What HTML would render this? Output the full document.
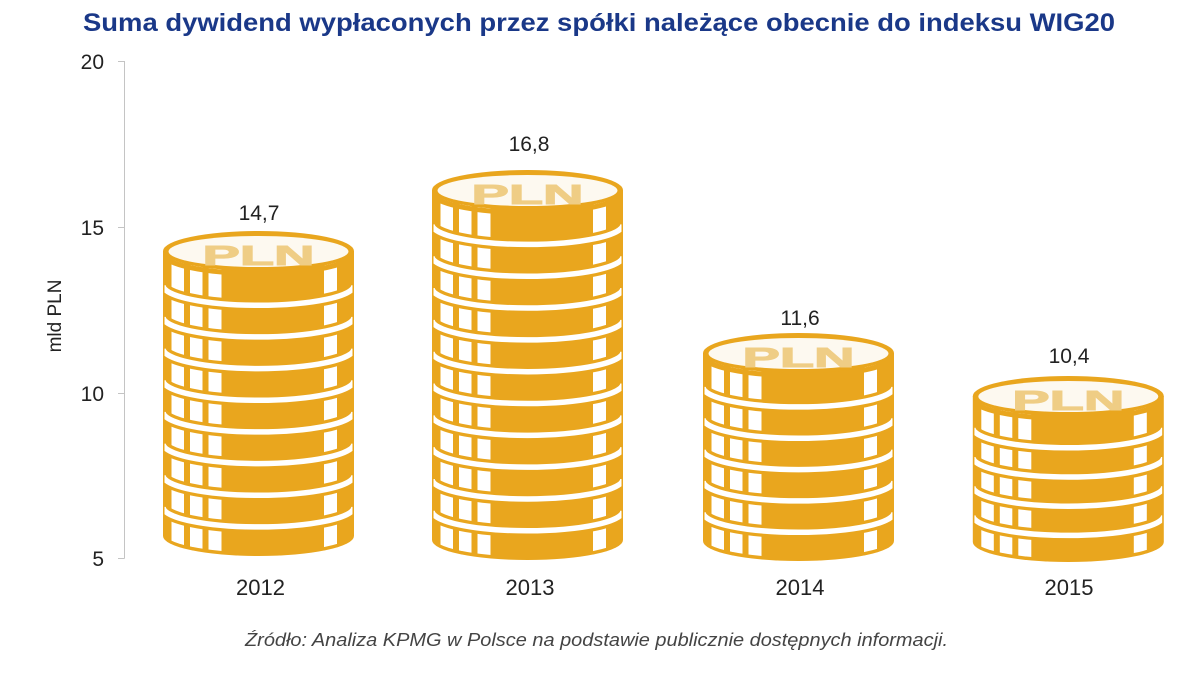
<!DOCTYPE html>
<html>
<head>
<meta charset="utf-8">
<style>
html,body{margin:0;padding:0;background:#ffffff;}
svg{display:block;}
text{font-family:"Liberation Sans",Arial,sans-serif;}
</style>
</head>
<body>
<svg width="1200" height="675" viewBox="0 0 1200 675" xmlns="http://www.w3.org/2000/svg">
<defs>
  <clipPath id="nA" clipPathUnits="userSpaceOnUse"><path d="M-95.5,0 L-95.5,281.5 A95.5,20 0 0 0 95.5,281.5 L95.5,0 Z"/></clipPath>
  <clipPath id="sA" clipPathUnits="userSpaceOnUse"><path d="M-94,-10 L-94,285 A94,19.5 0 0 0 94,285 L94,-10 Z"/></clipPath>
  <clipPath id="nB" clipPathUnits="userSpaceOnUse"><path d="M-95.5,0 L-95.5,346.5 A95.5,20 0 0 0 95.5,346.5 L95.5,0 Z"/></clipPath>
  <clipPath id="sB" clipPathUnits="userSpaceOnUse"><path d="M-94,-10 L-94,350 A94,19.5 0 0 0 94,350 L94,-10 Z"/></clipPath>
  <clipPath id="nC" clipPathUnits="userSpaceOnUse"><path d="M-95.5,0 L-95.5,184.5 A95.5,20 0 0 0 95.5,184.5 L95.5,0 Z"/></clipPath>
  <clipPath id="sC" clipPathUnits="userSpaceOnUse"><path d="M-94,-10 L-94,188 A94,19.5 0 0 0 94,188 L94,-10 Z"/></clipPath>
  <clipPath id="nD" clipPathUnits="userSpaceOnUse"><path d="M-95.5,0 L-95.5,142.5 A95.5,20 0 0 0 95.5,142.5 L95.5,0 Z"/></clipPath>
  <clipPath id="sD" clipPathUnits="userSpaceOnUse"><path d="M-94,-10 L-94,146 A94,19.5 0 0 0 94,146 L94,-10 Z"/></clipPath>
</defs>

<!-- Title -->
<text x="83" y="31" font-size="25" font-weight="bold" fill="#1A3888" textLength="1032" lengthAdjust="spacingAndGlyphs">Suma dywidend wypłaconych przez spółki należące obecnie do indeksu WIG20</text>

<!-- Y axis -->
<g stroke="#c4c4c4" stroke-width="1" fill="none">
  <line x1="124.5" y1="61" x2="124.5" y2="558.5"/>
  <line x1="118" y1="61.5" x2="124.5" y2="61.5"/>
  <line x1="118" y1="227.5" x2="124.5" y2="227.5"/>
  <line x1="118" y1="393.5" x2="124.5" y2="393.5"/>
  <line x1="118" y1="558.5" x2="124.5" y2="558.5"/>
</g>
<g font-size="21" fill="#222" text-anchor="end">
  <text x="104" y="69">20</text>
  <text x="104" y="235">15</text>
  <text x="104" y="401">10</text>
  <text x="104" y="566">5</text>
</g>
<text x="0" y="0" font-size="19" fill="#222" text-anchor="middle" transform="translate(61,316) rotate(-90)">mld PLN</text>

<!-- Stack 2012 -->
<g transform="translate(258.5,251)">
  <path d="M-95.5,0 L-95.5,285 A95.5,20 0 0 0 95.5,285 L95.5,0 Z" fill="#E9A61E"/>
  <g clip-path="url(#nA)" fill="#ffffff">
    <rect x="-87" y="0" width="12.5" height="310"/>
    <rect x="-68.5" y="0" width="12.5" height="310"/>
    <rect x="-50" y="0" width="13" height="310"/>
    <rect x="65.5" y="0" width="13" height="310"/>
  </g>
  <g clip-path="url(#sA)" fill="none">
    <path stroke="#E9A61E" stroke-width="12" d="M-95.5,34.27 A95.5,20 0 0 0 95.5,34.27 M-95.5,65.93 A95.5,20 0 0 0 95.5,65.93 M-95.5,97.6 A95.5,20 0 0 0 95.5,97.6 M-95.5,129.27 A95.5,20 0 0 0 95.5,129.27 M-95.5,160.93 A95.5,20 0 0 0 95.5,160.93 M-95.5,192.6 A95.5,20 0 0 0 95.5,192.6 M-95.5,224.27 A95.5,20 0 0 0 95.5,224.27 M-95.5,255.93 A95.5,20 0 0 0 95.5,255.93"/>
    <path stroke="#ffffff" stroke-width="5.5" d="M-95.5,34.27 A95.5,20 0 0 0 95.5,34.27 M-95.5,65.93 A95.5,20 0 0 0 95.5,65.93 M-95.5,97.6 A95.5,20 0 0 0 95.5,97.6 M-95.5,129.27 A95.5,20 0 0 0 95.5,129.27 M-95.5,160.93 A95.5,20 0 0 0 95.5,160.93 M-95.5,192.6 A95.5,20 0 0 0 95.5,192.6 M-95.5,224.27 A95.5,20 0 0 0 95.5,224.27 M-95.5,255.93 A95.5,20 0 0 0 95.5,255.93"/>
    <path stroke="#E9A61E" stroke-width="5" d="M-95.5,2.5 A95.5,20 0 0 0 95.5,2.5"/>
  </g>
  <ellipse cx="0" cy="0" rx="95.5" ry="20" fill="#E9A61E"/>
  <ellipse cx="0" cy="0.5" rx="90" ry="15.5" fill="#FDF9F0"/>
  <text x="0" y="14" font-size="28" font-weight="bold" fill="#EFCD85" stroke="#EFCD85" stroke-width="1" text-anchor="middle" textLength="112" lengthAdjust="spacingAndGlyphs">PLN</text>
</g>

<!-- Stack 2013 -->
<g transform="translate(527.5,190)">
  <path d="M-95.5,0 L-95.5,350 A95.5,20 0 0 0 95.5,350 L95.5,0 Z" fill="#E9A61E"/>
  <g clip-path="url(#nB)" fill="#ffffff">
    <rect x="-87" y="0" width="12.5" height="375"/>
    <rect x="-68.5" y="0" width="12.5" height="375"/>
    <rect x="-50" y="0" width="13" height="375"/>
    <rect x="65.5" y="0" width="13" height="375"/>
  </g>
  <g clip-path="url(#sB)" fill="none">
    <path stroke="#E9A61E" stroke-width="12" d="M-95.5,34.42 A95.5,20 0 0 0 95.5,34.42 M-95.5,66.24 A95.5,20 0 0 0 95.5,66.24 M-95.5,98.05 A95.5,20 0 0 0 95.5,98.05 M-95.5,129.87 A95.5,20 0 0 0 95.5,129.87 M-95.5,161.69 A95.5,20 0 0 0 95.5,161.69 M-95.5,193.51 A95.5,20 0 0 0 95.5,193.51 M-95.5,225.33 A95.5,20 0 0 0 95.5,225.33 M-95.5,257.15 A95.5,20 0 0 0 95.5,257.15 M-95.5,288.96 A95.5,20 0 0 0 95.5,288.96 M-95.5,320.78 A95.5,20 0 0 0 95.5,320.78"/>
    <path stroke="#ffffff" stroke-width="5.5" d="M-95.5,34.42 A95.5,20 0 0 0 95.5,34.42 M-95.5,66.24 A95.5,20 0 0 0 95.5,66.24 M-95.5,98.05 A95.5,20 0 0 0 95.5,98.05 M-95.5,129.87 A95.5,20 0 0 0 95.5,129.87 M-95.5,161.69 A95.5,20 0 0 0 95.5,161.69 M-95.5,193.51 A95.5,20 0 0 0 95.5,193.51 M-95.5,225.33 A95.5,20 0 0 0 95.5,225.33 M-95.5,257.15 A95.5,20 0 0 0 95.5,257.15 M-95.5,288.96 A95.5,20 0 0 0 95.5,288.96 M-95.5,320.78 A95.5,20 0 0 0 95.5,320.78"/>
    <path stroke="#E9A61E" stroke-width="5" d="M-95.5,2.5 A95.5,20 0 0 0 95.5,2.5"/>
  </g>
  <ellipse cx="0" cy="0" rx="95.5" ry="20" fill="#E9A61E"/>
  <ellipse cx="0" cy="0.5" rx="90" ry="15.5" fill="#FDF9F0"/>
  <text x="0" y="14" font-size="28" font-weight="bold" fill="#EFCD85" stroke="#EFCD85" stroke-width="1" text-anchor="middle" textLength="112" lengthAdjust="spacingAndGlyphs">PLN</text>
</g>

<!-- Stack 2014 -->
<g transform="translate(798.5,353)">
  <path d="M-95.5,0 L-95.5,188 A95.5,20 0 0 0 95.5,188 L95.5,0 Z" fill="#E9A61E"/>
  <g clip-path="url(#nC)" fill="#ffffff">
    <rect x="-87" y="0" width="12.5" height="215"/>
    <rect x="-68.5" y="0" width="12.5" height="215"/>
    <rect x="-50" y="0" width="13" height="215"/>
    <rect x="65.5" y="0" width="13" height="215"/>
  </g>
  <g clip-path="url(#sC)" fill="none">
    <path stroke="#E9A61E" stroke-width="12" d="M-95.5,33.93 A95.5,20 0 0 0 95.5,33.93 M-95.5,65.27 A95.5,20 0 0 0 95.5,65.27 M-95.5,96.6 A95.5,20 0 0 0 95.5,96.6 M-95.5,127.93 A95.5,20 0 0 0 95.5,127.93 M-95.5,159.27 A95.5,20 0 0 0 95.5,159.27"/>
    <path stroke="#ffffff" stroke-width="5.5" d="M-95.5,33.93 A95.5,20 0 0 0 95.5,33.93 M-95.5,65.27 A95.5,20 0 0 0 95.5,65.27 M-95.5,96.6 A95.5,20 0 0 0 95.5,96.6 M-95.5,127.93 A95.5,20 0 0 0 95.5,127.93 M-95.5,159.27 A95.5,20 0 0 0 95.5,159.27"/>
    <path stroke="#E9A61E" stroke-width="5" d="M-95.5,2.5 A95.5,20 0 0 0 95.5,2.5"/>
  </g>
  <ellipse cx="0" cy="0" rx="95.5" ry="20" fill="#E9A61E"/>
  <ellipse cx="0" cy="0.5" rx="90" ry="15.5" fill="#FDF9F0"/>
  <text x="0" y="14" font-size="28" font-weight="bold" fill="#EFCD85" stroke="#EFCD85" stroke-width="1" text-anchor="middle" textLength="112" lengthAdjust="spacingAndGlyphs">PLN</text>
</g>

<!-- Stack 2015 -->
<g transform="translate(1068.3,396)">
  <path d="M-95.5,0 L-95.5,146 A95.5,20 0 0 0 95.5,146 L95.5,0 Z" fill="#E9A61E"/>
  <g clip-path="url(#nD)" fill="#ffffff">
    <rect x="-87" y="0" width="12.5" height="170"/>
    <rect x="-68.5" y="0" width="12.5" height="170"/>
    <rect x="-50" y="0" width="13" height="170"/>
    <rect x="65.5" y="0" width="13" height="170"/>
  </g>
  <g clip-path="url(#sD)" fill="none">
    <path stroke="#E9A61E" stroke-width="12" d="M-95.5,31.8 A95.5,20 0 0 0 95.5,31.8 M-95.5,61 A95.5,20 0 0 0 95.5,61 M-95.5,90.2 A95.5,20 0 0 0 95.5,90.2 M-95.5,119.4 A95.5,20 0 0 0 95.5,119.4"/>
    <path stroke="#ffffff" stroke-width="5.5" d="M-95.5,31.8 A95.5,20 0 0 0 95.5,31.8 M-95.5,61 A95.5,20 0 0 0 95.5,61 M-95.5,90.2 A95.5,20 0 0 0 95.5,90.2 M-95.5,119.4 A95.5,20 0 0 0 95.5,119.4"/>
    <path stroke="#E9A61E" stroke-width="5" d="M-95.5,2.5 A95.5,20 0 0 0 95.5,2.5"/>
  </g>
  <ellipse cx="0" cy="0" rx="95.5" ry="20" fill="#E9A61E"/>
  <ellipse cx="0" cy="0.5" rx="90" ry="15.5" fill="#FDF9F0"/>
  <text x="0" y="14" font-size="28" font-weight="bold" fill="#EFCD85" stroke="#EFCD85" stroke-width="1" text-anchor="middle" textLength="112" lengthAdjust="spacingAndGlyphs">PLN</text>
</g>

<!-- Value labels -->
<g font-size="21" fill="#222" text-anchor="middle">
  <text x="259" y="220">14,7</text>
  <text x="529" y="151">16,8</text>
  <text x="800" y="325">11,6</text>
  <text x="1069" y="363">10,4</text>
</g>

<!-- Category labels -->
<g font-size="22" fill="#222" text-anchor="middle">
  <text x="260.5" y="595">2012</text>
  <text x="530" y="595">2013</text>
  <text x="800" y="595">2014</text>
  <text x="1069" y="595">2015</text>
</g>

<!-- Source -->
<text x="245" y="646" font-size="18" font-style="italic" fill="#444" textLength="703" lengthAdjust="spacingAndGlyphs">Źródło: Analiza KPMG w Polsce na podstawie publicznie dostępnych informacji.</text>
</svg>
</body>
</html>
